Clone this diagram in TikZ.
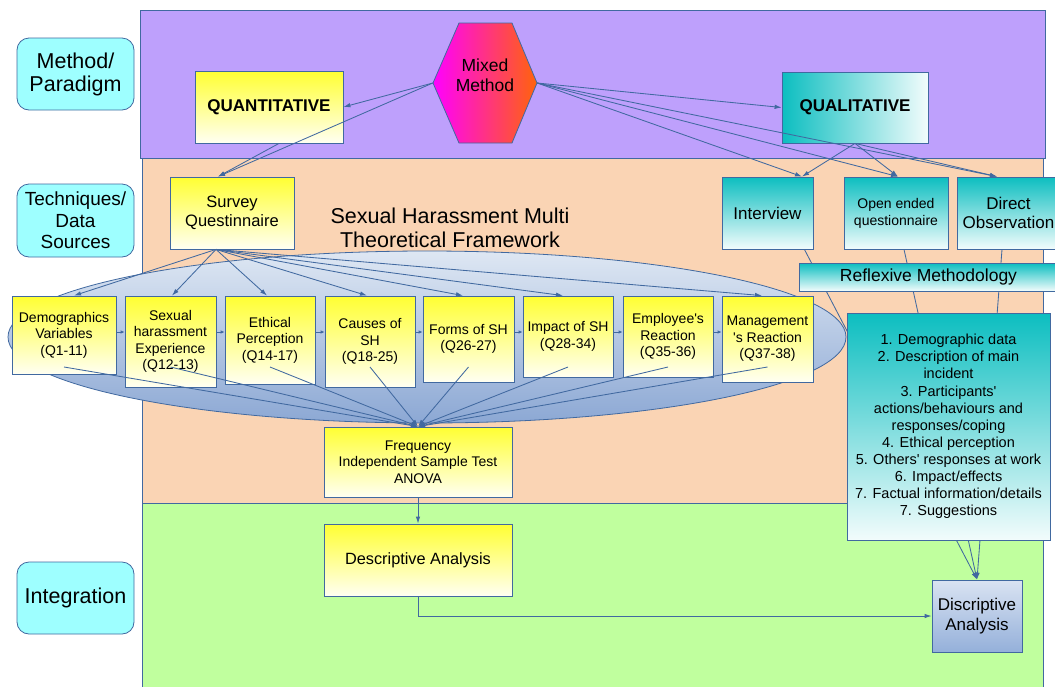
\documentclass[tikz,border=0pt]{standalone}
\usepackage{fontspec}
\setmainfont{Liberation Sans}
\usetikzlibrary{arrows.meta,calc}
\pgfdeclarelayer{bands}
\pgfdeclarelayer{hidden}
\pgfsetlayers{bands,hidden,main}

\definecolor{edge}{RGB}{65,105,160}
\definecolor{purpleband}{RGB}{190,160,252}
\definecolor{peachband}{RGB}{250,212,180}
\definecolor{greenband}{RGB}{192,255,158}
\definecolor{labcyan}{RGB}{158,255,255}
\definecolor{ytop}{RGB}{255,255,50}
\definecolor{ybot}{RGB}{255,255,242}
\definecolor{tealtop}{RGB}{12,190,192}
\definecolor{tealbot}{RGB}{242,252,252}
\definecolor{eltop}{RGB}{222,231,243}
\definecolor{elbot}{RGB}{140,168,212}
\definecolor{btop}{RGB}{218,227,242}
\definecolor{bbot}{RGB}{148,176,218}
\definecolor{hexl}{RGB}{255,0,255}
\definecolor{hexr}{RGB}{255,100,10}

\newcommand{\qs}{\textquotesingle}

\begin{document}
\begin{tikzpicture}[x=1pt,y=-1pt,
  band/.style={draw=edge, line width=0.8pt},
  lab/.style={draw=edge, fill=labcyan, rounded corners=12pt, line width=0.8pt,
    align=center, inner sep=0pt, minimum width=117pt},
  ybox/.style={draw=edge, line width=0.8pt, top color=ytop, bottom color=ybot,
    align=center, inner sep=0pt, font=\fontsize{14}{16.5}\selectfont},
  tbox/.style={draw=edge, line width=0.8pt, top color=tealtop, bottom color=tealbot,
    align=center, inner sep=0pt},
  conn/.style={draw=edge, line width=0.85pt, -{Latex[length=7pt,width=4.5pt]}},
  shortconn/.style={draw=edge, line width=0.8pt, -{Latex[length=4pt,width=3.5pt]}},
  sz/.style 2 args={minimum width=#1pt, minimum height=#2pt},
]
\useasboundingbox (0,0) rectangle (1055,686);

% ---------- row labels ----------
\node[lab, minimum height=72pt, font=\fontsize{21.5}{23}\selectfont] (labmethod) at (75.5,74) {Method/\\Paradigm};
\node[lab, minimum height=73pt, font=\fontsize{19}{21.5}\selectfont] (labtech) at (75.5,220.5) {Techniques/\\Data\\Sources};
\node[lab, minimum height=72pt, font=\fontsize{21.5}{23}\selectfont] (labint) at (75.5,598) {Integration};

% ---------- method / paradigm ----------
\node[draw=edge, line width=0.8pt, top color=ytop, bottom color=ybot, inner sep=0pt,
  sz={148}{72}, font=\fontsize{17}{20}\selectfont\bfseries] (quant) at (269,107) {QUANTITATIVE};
\node[draw=edge, line width=0.8pt, left color=tealtop, right color=tealbot, inner sep=0pt,
  sz={146}{71}, font=\fontsize{17}{20}\selectfont\bfseries] (qual) at (855,107.5) {QUALITATIVE};

\shade[left color=hexl, right color=hexr] (459,23) -- (512,23) -- (537,83) -- (512,143) -- (459,143) -- (433,83) -- cycle;
\draw[edge, line width=0.8pt] (459,23) -- (512,23) -- (537,83) -- (512,143) -- (459,143) -- (433,83) -- cycle;
\node[inner sep=0pt, sz={104}{120}] (mixed) at (485,83) {};
\node[align=center, inner sep=0pt, font=\fontsize{17.5}{20}\selectfont] (mixedtxt) at (485,75) {Mixed\\Method};

% ---------- techniques / data sources ----------
\node[ybox, sz={124}{72}, font=\fontsize{16.5}{19}\selectfont] (survey) at (232,213) {Survey\\Questinnaire};
\node[align=center, inner sep=0pt, font=\fontsize{21.5}{24}\selectfont] (title) at (450,228) {Sexual Harassment Multi\\Theoretical Framework};

\node[ybox, sz={104}{78}] (demo)     at (64,335)    {Demographics\\Variables\\(Q1-11)};
\node[ybox, sz={91}{91}]  (sexual)   at (170.5,341.5) {Sexual\\harassment\\Experience\\(Q12-13)};
\node[ybox, sz={90}{88}]  (ethical)  at (270,340)   {Ethical\\Perception\\(Q14-17)};
\node[ybox, sz={90}{91}]  (causes)   at (370,341.5) {Causes of\\SH\\(Q18-25)};
\node[ybox, sz={91}{86}]  (forms)    at (468.5,339) {Forms of SH\\(Q26-27)};
\node[ybox, sz={90}{81}]  (impact)   at (568,336.5) {Impact of SH\\(Q28-34)};
\node[ybox, sz={90}{81}]  (employee) at (668,336.5) {Employee\qs s\\Reaction\\(Q35-36)};
\node[ybox, sz={91}{86}]  (mgmt)     at (767.5,339) {Management\\\qs s Reaction\\(Q37-38)};

\node[ybox, sz={188}{70}] (freq) at (418,462) {Frequency\\Independent Sample Test\\ANOVA};

\node[tbox, sz={91}{72}, font=\fontsize{17}{19}\selectfont] (interview) at (767.5,213) {Interview};
\node[tbox, sz={104}{72}, font=\fontsize{14}{17}\selectfont] (openq) at (896,213) {Open ended\\questionnaire};
\node[tbox, sz={103}{72}, font=\fontsize{17}{19}\selectfont] (direct) at (1008.5,213) {Direct\\Observation};
\node[tbox, sz={259}{28}, font=\fontsize{17.5}{20}\selectfont] (reflex) at (928.5,277) {Reflexive Methodology};
\node[tbox, sz={203}{227}, font=\fontsize{14.5}{17.1}\selectfont] (themes) at (948.5,426.5)
  {1. Demographic data\\2. Description of main\\incident\\3. Participants\qs\\actions/behaviours and\\responses/coping\\4. Ethical perception\\5. Others\qs{} responses at work\\6. Impact/effects\\7. Factual information/details\\7. Suggestions};

% ---------- integration ----------
\node[ybox, sz={188}{72}, font=\fontsize{16.3}{19}\selectfont] (desc) at (418,560) {Descriptive Analysis};
\node[draw=edge, line width=0.8pt, top color=btop, bottom color=bbot, align=center, inner sep=0pt,
  sz={90}{72}, font=\fontsize{17}{20}\selectfont] (disc) at (977,616) {Discriptive\\Analysis};

% ---------- bands and framework ellipse ----------
\begin{pgfonlayer}{bands}
  \fill[white] (0,0) rectangle (1055,686);
  \filldraw[band, fill=purpleband] (140,10) rectangle (1045,158);
  \filldraw[band, fill=peachband] (142,158) rectangle (1043,503);
  \filldraw[band, fill=greenband] (142,503) rectangle (1043,700);
  \shade[top color=eltop, bottom color=elbot] (427,337) ellipse [x radius=419pt, y radius=86pt];
  \draw[edge, line width=0.8pt] (427,337) ellipse [x radius=419pt, y radius=86pt];
\end{pgfonlayer}

% ---------- qualitative sources feeding the final analysis ----------
\coordinate (ivb) at ($(interview.south east)+(-9,0)$);
\coordinate (opb) at ($(openq.south)+(8,0)$);
\coordinate (dob) at ($(direct.south)+(-6.5,0)$);
\begin{pgfonlayer}{hidden}
  \draw[conn] (ivb) -- (disc.north);
  \draw[conn] (opb) -- (disc.north);
  \draw[conn] (dob) -- (disc.north);
\end{pgfonlayer}

% ---------- paradigm connectors ----------
\coordinate (svtop) at ($(survey.north)+(-14,0)$);
\draw[conn] (mixed.west) -- (quant.east);
\draw[conn] (mixed.west) -- (svtop);
\draw[conn] ($(quant.south)+(10,0)$) -- (svtop);

\coordinate (ivtop) at ($(interview.north)+(34.5,0)$);
\coordinate (optop) at ($(openq.north)+(2,0)$);
\coordinate (dotop) at ($(direct.north)+(-11.5,0)$);
\draw[conn] (mixed.east) -- (qual.west);
\draw[conn] (mixed.east) -- (ivtop);
\draw[conn] (mixed.east) -- (optop);
\draw[conn] (mixed.east) -- (dotop);
\draw[conn] (qual.south) -- (ivtop);
\draw[conn] (qual.south) -- (optop);
\draw[conn] (qual.south) -- (dotop);

% ---------- survey to question groups ----------
\coordinate (svb) at ($(survey.south)+(-16,0)$);
\draw[conn] (svb) -- ($(demo.north)+(10,0)$);
\draw[conn] (svb) -- ($(sexual.north)+(1.5,0)$);
\draw[conn] (svb) -- ($(ethical.north)+(-3,0)$);
\draw[conn] (svb) -- ($(causes.north)+(-3,0)$);
\draw[conn] (svb) -- ($(forms.north)+(-5.5,0)$);
\draw[conn] (svb) -- ($(impact.north)+(-5,0)$);
\draw[conn] (svb) -- ($(mgmt.north)+(-5.5,0)$);

% ---------- chain between question groups ----------
\coordinate (rowy) at (0,332);
\foreach \a/\b in {demo/sexual, sexual/ethical, ethical/causes, causes/forms,
                   forms/impact, impact/employee, employee/mgmt}
  \draw[shortconn] (\a.east |- rowy) -- (\b.west |- rowy);

% ---------- question groups to statistics ----------
\coordinate (fy) at (0,367);
\foreach \g in {demo, sexual, ethical, causes, forms, impact, employee, mgmt}
  \draw[conn] (\g.center |- fy) -- (freq.north);

% ---------- integration ----------
\draw[conn] (freq.south) -- (desc.north);
\draw[conn] (desc.south) |- (disc.west);

\end{tikzpicture}
\end{document}
